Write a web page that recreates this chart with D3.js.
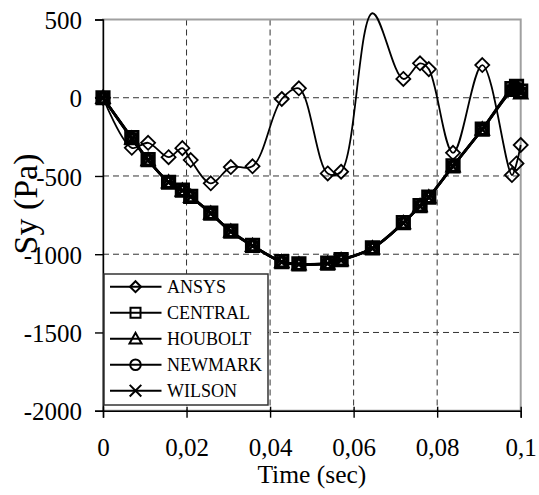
<!DOCTYPE html>
<html>
<head>
<meta charset="utf-8">
<script src="https://cdn.jsdelivr.net/npm/d3@7"></script>
<style>
  html, body { margin: 0; padding: 0; background: #fff; }
  svg { display: block; }
  svg text { font-family: "Liberation Serif", "Times New Roman", Times, serif; }
</style>
</head>
<body>
<svg id="chart" width="539" height="495"></svg>
<script>
// Sample times (s) shared by every solver
const times = [0, 0.0069, 0.0108, 0.0157, 0.0190, 0.0210, 0.0258, 0.0306, 0.0358, 0.0428, 0.0469,
               0.0538, 0.0570, 0.0645, 0.0719, 0.0759, 0.0780, 0.0838, 0.0908, 0.0979, 0.0990, 0.1000];

// Stress Sy (Pa) per solver
const ansys   = [0, -320, -288, -380, -322, -398, -547, -443, -438, -8, 60,
                 -484, -473, 540, 120, 220, 183, -352, 209, -494, -420, -302];
const central = [0, -255, -396, -540, -590, -630, -737, -852, -944, -1047, -1062,
                 -1057, -1035, -960, -798, -690, -635, -435, -200, 58, 72, 42];
const houbolt = [0, -260, -398, -540, -592, -632, -739, -855, -946, -1049, -1064,
                 -1059, -1037, -962, -800, -692, -636, -437, -202, 46, 56, 30];
const newmark = [0, -258, -397, -539, -591, -631, -738, -854, -945, -1048, -1063,
                 -1058, -1036, -961, -799, -691, -635, -436, -201, 52, 64, 36];
const wilson  = [0, -262, -399, -541, -593, -633, -740, -856, -947, -1050, -1065,
                 -1060, -1038, -963, -801, -693, -637, -438, -203, 48, 60, 33];

const seriesNames = ["ANSYS", "CENTRAL", "HOUBOLT", "NEWMARK", "WILSON"];
const seriesValues = [ansys, central, houbolt, newmark, wilson];
const seriesMarkers = ["diamond", "square", "triangle", "circle", "cross"];

const xTicks = [0, 0.02, 0.04, 0.06, 0.08, 0.1];
const xTickLabels = ["0", "0,02", "0,04", "0,06", "0,08", "0,1"];
const yTicks = [500, 0, -500, -1000, -1500, -2000];
const yTickLabels = ["500", "0", "-500", "-1000", "-1500", "-2000"];

const xTitle = "Time (sec)";
const yTitle = "Sy (Pa)";

const FONT = "'Liberation Serif', 'Times New Roman', Times, serif";

// ---- layout ----
const plot = { left: 103, right: 520.7, top: 19.5, bottom: 410.7 };
const svg = d3.select("#chart");

const x = d3.scaleLinear().domain([0, 0.1]).range([plot.left, plot.right]);
const y = d3.scaleLinear().domain([-2000, 500]).range([plot.bottom, plot.top]);

// marker shapes, r = half-extent
function markerPath(kind, r) {
  switch (kind) {
    case "diamond": return `M0,${-r}L${r},0L0,${r}L${-r},0Z`;
    case "square": return `M${-r},${-r}H${r}V${r}H${-r}Z`;
    case "triangle": return `M0,${-r}L${r},${r * 0.8}L${-r},${r * 0.8}Z`;
    case "circle": return `M${r},0A${r},${r} 0 1,1 ${-r},0A${r},${r} 0 1,1 ${r},0Z`;
    case "cross": return `M${-r},${-r}L${r},${r}M${r},${-r}L${-r},${r}`;
  }
}
const markerSize = { diamond: 7, square: 6.3, triangle: 6.3, circle: 5.3, cross: 5.3 };
const legendMarkerSize = { diamond: 5.5, square: 5, triangle: 6, circle: 5.3, cross: 5.8 };

// ---- gridlines ----
const grid = svg.append("g").attr("stroke", "#333").attr("stroke-width", 1)
  .attr("stroke-dasharray", "6,4");
grid.selectAll("line.v").data(xTicks.filter(d => d > 0 && d < 0.1)).join("line")
  .attr("x1", d => x(d)).attr("x2", d => x(d))
  .attr("y1", plot.top).attr("y2", plot.bottom);
grid.selectAll("line.h").data(yTicks.filter(d => d < 500 && d > -2000)).join("line")
  .attr("x1", plot.left).attr("x2", plot.right)
  .attr("y1", d => y(d)).attr("y2", d => y(d));

// plot frame
svg.append("rect")
  .attr("x", plot.left).attr("y", plot.top)
  .attr("width", plot.right - plot.left).attr("height", plot.bottom - plot.top)
  .attr("fill", "none").attr("stroke", "#a0a0a0").attr("stroke-width", 2);

// ---- axes ----
const yAxis = d3.axisLeft(y).tickValues(yTicks)
  .tickFormat((d, i) => yTickLabels[i]).tickSize(8).tickPadding(13);
const gy = svg.append("g").attr("transform", `translate(${plot.left},0)`).call(yAxis);

const xAxis = d3.axisBottom(x).tickValues(xTicks)
  .tickFormat((d, i) => xTickLabels[i]).tickSize(7).tickPadding(21);
const gx = svg.append("g").attr("transform", `translate(0,${plot.bottom})`).call(xAxis);
gx.selectAll(".tick line").attr("y1", -4);

[gx, gy].forEach(g => {
  g.attr("font-family", FONT).attr("font-size", 25);
  g.select(".domain").attr("stroke", "#000").attr("stroke-width", 1.4);
  g.selectAll(".tick line").attr("stroke", "#000").attr("stroke-width", 1.4);
  g.selectAll(".tick text").attr("fill", "#000")
    .attr("font-family", FONT).attr("font-size", 25);
});
gy.selectAll(".tick text").attr("dy", "0.37em");

// axis titles
svg.append("text").attr("x", (plot.left + plot.right) / 2).attr("y", 483)
  .attr("text-anchor", "middle").attr("font-family", FONT).attr("font-size", 25.5)
  .text(xTitle);
svg.append("text").attr("transform", "translate(37,204) rotate(-90)")
  .attr("text-anchor", "middle").attr("font-family", FONT).attr("font-size", 34)
  .text(yTitle);

// ---- series ----
const line = d3.line()
  .x((d, i) => x(times[i]))
  .y(d => y(d))
  .curve(d3.curveCatmullRom.alpha(0.5));

seriesValues.forEach((vals, si) => {
  const kind = seriesMarkers[si];
  const g = svg.append("g");
  g.append("path").attr("d", line(vals))
    .attr("fill", "none").attr("stroke", "#000")
    .attr("stroke-width", si === 0 ? 1.8 : 2.5).attr("stroke-linejoin", "round");
  // markers are only shown for points inside the value axis range
  const pts = vals.map((v, i) => ({ t: times[i], v }))
    .filter(p => p.v <= 500 && p.v >= -2000);
  g.selectAll("path.m").data(pts).join("path")
    .attr("class", "m")
    .attr("transform", p => `translate(${x(p.t)},${y(p.v)})`)
    .attr("d", markerPath(kind, markerSize[kind]))
    .attr("fill", "none")
    .attr("stroke", "#000").attr("stroke-width", si === 0 ? 1.8 : 2.6);
});

// ---- legend ----
const legend = svg.append("g");
legend.append("rect").attr("x", 104).attr("y", 274).attr("width", 164).attr("height", 131)
  .attr("fill", "#fff").attr("stroke", "#333").attr("stroke-width", 1.5);
seriesNames.forEach((name, i) => {
  const cy = 286.7 + i * 26;
  const kind = seriesMarkers[i];
  legend.append("line").attr("x1", 110).attr("x2", 161.5).attr("y1", cy).attr("y2", cy)
    .attr("stroke", "#000").attr("stroke-width", 2);
  legend.append("path").attr("transform", `translate(135.5,${cy})`)
    .attr("d", markerPath(kind, legendMarkerSize[kind]))
    .attr("fill", "none")
    .attr("stroke", "#000").attr("stroke-width", 2);
  legend.append("text").attr("x", 167).attr("y", cy + 6.5)
    .attr("font-family", FONT).attr("font-size", 18).text(name);
});
</script>
</body>
</html>
